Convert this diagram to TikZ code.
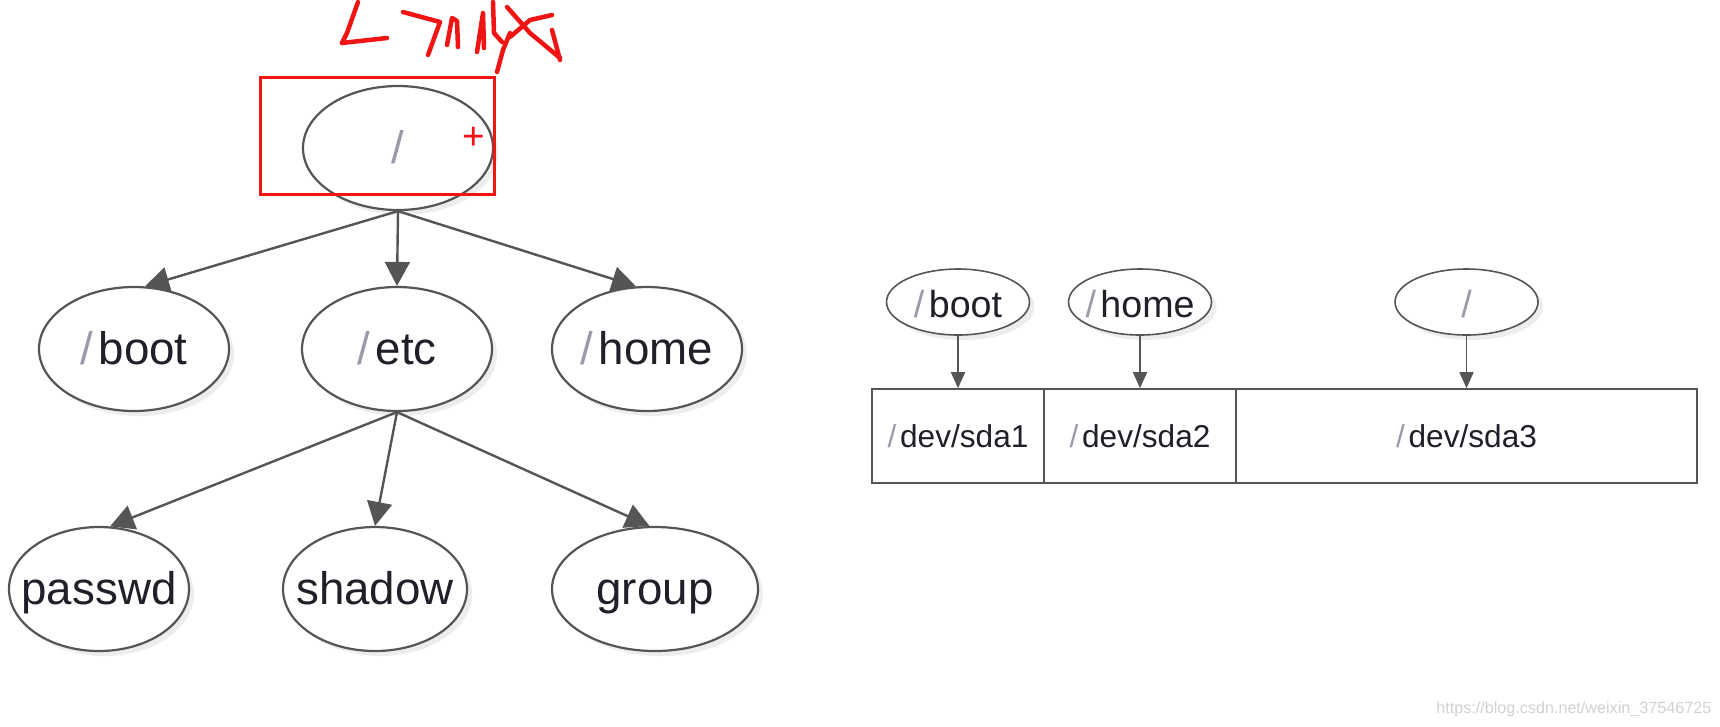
\documentclass[tikz,border=0pt]{standalone}
\usepackage{fontspec}
\setmainfont{Liberation Sans}
\usetikzlibrary{arrows.meta,shapes.geometric,shadows}
\definecolor{linegray}{HTML}{555555}
\definecolor{slashgray}{HTML}{9A9AAA}
\definecolor{textdark}{HTML}{202028}
\definecolor{inkred}{HTML}{F01414}
\newcommand{\dirslash}{\textcolor{slashgray}{/}\hspace{0.12em}}
\newcommand{\nodetext}[1]{\makebox[0pt]{#1}}

\begin{document}
\begin{tikzpicture}[x=0.1mm,y=-0.1mm,
  dirnode/.style={ellipse, draw=linegray, line width=0.22mm, fill=white,
    minimum width=19mm, minimum height=12.4mm, inner sep=0pt, text=textdark,
    text height=0.86em, text depth=0pt,
    font=\fontsize{13}{15}\selectfont,
    drop shadow={opacity=0.14, shadow xshift=0.5mm, shadow yshift=-0.5mm}},
  mntnode/.style={dirnode, line width=0.16mm, minimum width=14.3mm,
    minimum height=6.6mm, font=\fontsize{10.7}{12}\selectfont},
  cell/.style={rectangle, draw=linegray, line width=0.16mm, fill=white,
    minimum height=9.4mm, inner sep=0pt, text=textdark,
    font=\fontsize{9}{11}\selectfont},
  link/.style={draw=linegray, line width=0.24mm,
    -{Triangle[length=2.4mm, width=2.5mm]}},
  mntlink/.style={draw=linegray, line width=0.16mm,
    -{Triangle[length=1.6mm, width=1.4mm]}},
  ink/.style={draw=inkred, line width=0.45mm, line cap=round, line join=round}]
  \useasboundingbox (0,0) rectangle (1720,726);

  % directory tree
  \node[dirnode] (root) at (398,148) {\nodetext{\textcolor{slashgray}{/}}};
  \node[dirnode] (boot) at (134,349) {\nodetext{\dirslash boot}};
  \node[dirnode] (etc) at (397,349) {\nodetext{\dirslash etc}};
  \node[dirnode] (home) at (647,349) {\nodetext{\dirslash home}};
  \node[dirnode, minimum width=18mm] (passwd) at (99,589) {\nodetext{passwd}};
  \node[dirnode, minimum width=18.4mm] (shadow) at (375,589) {\nodetext{shadow}};
  \node[dirnode, minimum width=20.6mm] (group) at (655,589) {\nodetext{group}};

  \draw[link] (root.south) -- (boot.80);
  \draw[link] (root.south) -- (etc.north);
  \draw[link] (root.south) -- (home.100);
  \draw[link] (etc.south) -- (passwd.80);
  \draw[link] (etc.south) -- (shadow.north);
  \draw[link] (etc.south) -- (group.95);

  % red marks
  \draw[inkred, line width=0.3mm] (260,77) rectangle (494,194);
  \node[text=inkred, font=\fontsize{11}{12}\selectfont, inner sep=0pt] (plus) at (474,138) {+};
  \draw[ink] (358,2) -- (347,33) -- (342,43);
  \draw[ink] (342,43) -- (387,38);
  \draw[ink] (403,12) -- (440,22) -- (428,55);
  \draw[ink] (447,45) -- (452,18) -- (457,21) -- (458,47);
  \draw[ink] (477,52) -- (483,13) -- (484,48);
  \draw[ink] (493,2) -- (494,33) -- (502,42);
  \draw[ink] (510,33) -- (503,50) -- (497,72);
  \draw[ink] (507,7) -- (530,33) -- (560,58);
  \draw[ink] (552,15) -- (530,20) -- (510,37);
  \draw[ink] (552,30) -- (560,60);

  % partitions
  \node[cell, minimum width=17.2mm] (sda1) at (958,436) {\dirslash dev/sda1};
  \node[cell, minimum width=19.2mm] (sda2) at (1140,436) {\dirslash dev/sda2};
  \node[cell, minimum width=46.1mm] (sda3) at (1466.5,436) {\dirslash dev/sda3};

  \node[mntnode] (mboot) at (958,302) {\nodetext{\dirslash boot}};
  \node[mntnode] (mhome) at (1140,302) {\nodetext{\dirslash home}};
  \node[mntnode] (mroot) at (1466.5,302) {\nodetext{\textcolor{slashgray}{/}}};

  \draw[mntlink] (mboot) -- (sda1.north);
  \draw[mntlink] (mhome) -- (sda2.north);
  \draw[mntlink] (mroot) -- (sda3.north);

  \node[text=black!18, font=\fontsize{4.6}{6}\selectfont, anchor=east, inner sep=0pt] (mark) at (1712,709) {https://blog.csdn.net/weixin\_37546725};
\end{tikzpicture}
\end{document}
